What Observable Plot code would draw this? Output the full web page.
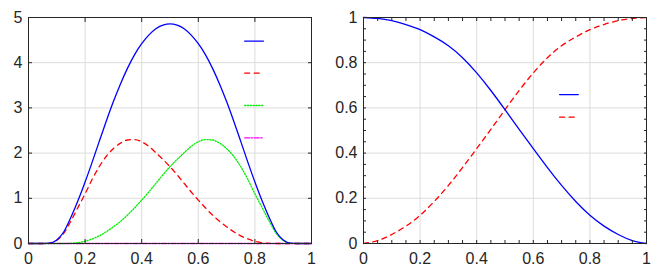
<!DOCTYPE html>
<html><head><meta charset="utf-8">
<script src="https://cdn.jsdelivr.net/npm/d3@7"></script>
<script src="https://cdn.jsdelivr.net/npm/@observablehq/plot@0.6"></script>
<style>
body{margin:0;background:#fff;}
#wrap{position:relative;width:664px;height:275px;overflow:hidden;}
#left{position:absolute;left:0;top:0;}
#right{position:absolute;left:330px;top:0;}
</style></head><body><div id="wrap"><div id="left"></div><div id="right"></div></div>
<script>
// ---------- DATA ----------
const xLeft = [0,0.025,0.05,0.075,0.1,0.125,0.15,0.175,0.2,0.225,0.25,0.275,0.3,0.325,0.35,0.375,0.4,0.425,0.45,0.475,0.5,0.525,0.55,0.575,0.6,0.625,0.65,0.675,0.7,0.725,0.75,0.775,0.8,0.825,0.85,0.875,0.9,0.925,0.95,0.975,1];
const leftBlue = [0,0,0,0.01,0.08,0.26,0.58,0.95,1.36,1.8,2.26,2.71,3.14,3.53,3.88,4.18,4.42,4.61,4.75,4.83,4.86,4.83,4.75,4.61,4.42,4.18,3.88,3.53,3.14,2.71,2.26,1.8,1.36,0.95,0.58,0.26,0.08,0.01,0,0,0];
const leftRed = [0,0,0,0.01,0.07,0.23,0.5,0.8,1.1,1.42,1.7,1.93,2.1,2.22,2.29,2.3,2.25,2.15,2.01,1.86,1.7,1.52,1.33,1.14,0.96,0.79,0.63,0.49,0.37,0.26,0.17,0.1,0.05,0.02,0.005,0,0,0,0,0,0];
const leftGreen = [0,0,0,0,0,0,0.005,0.02,0.05,0.1,0.17,0.26,0.37,0.49,0.63,0.79,0.96,1.14,1.33,1.52,1.7,1.86,2.01,2.15,2.25,2.3,2.29,2.22,2.1,1.93,1.7,1.42,1.1,0.8,0.5,0.23,0.07,0.01,0,0,0];
const leftMagenta = [0,0,0,0,0,0,0,0,0,0,0,0,0,0,0,0,0,0,0,0,0,0,0,0,0,0,0,0,0,0,0,0,0,0,0,0,0,0,0,0,0];

const xRight = [0,0.05,0.1,0.15,0.2,0.25,0.3,0.35,0.4,0.45,0.5,0.55,0.6,0.65,0.7,0.75,0.8,0.85,0.9,0.95,1];
const rightBlue = [1,0.996,0.986,0.969,0.946,0.914,0.875,0.822,0.755,0.677,0.592,0.505,0.42,0.336,0.257,0.186,0.125,0.077,0.04,0.013,0];
const rightRed = [0,0.013,0.04,0.077,0.125,0.186,0.257,0.336,0.42,0.505,0.592,0.677,0.755,0.822,0.875,0.914,0.946,0.969,0.986,0.996,1];

const xTicks = [0,0.2,0.4,0.6,0.8,1];
const yTicksLeft = [0,1,2,3,4,5];
const yTicksRight = [0,0.2,0.4,0.6,0.8,1];
const minorTicks = [0,0.05,0.1,0.15,0.2,0.25,0.3,0.35,0.4,0.45,0.5,0.55,0.6,0.65,0.7,0.75,0.8,0.85,0.9,0.95,1];

// ---------- STYLES / LAYOUT ----------
const TXT = "#262626";
const GRID = "#dcdcdc";
const FONT_SIZE = 16;
const fmt = d => String(+(+d).toFixed(2));
const font = {fontFamily: "'Liberation Sans', Arial, Helvetica, sans-serif", fontSize: FONT_SIZE + "px", color: TXT, background: "white"};

const series = {
  blue: {stroke: "#0000ff", strokeWidth: 1.3},
  red: {stroke: "#ff0000", strokeWidth: 1.3, strokeDasharray: "5,4.5"},
  green: {stroke: "#00ee00", strokeWidth: 1.3, strokeDasharray: "1.2,1.6"},
  magenta: {stroke: "#ff00ff", strokeWidth: 1.3, strokeDasharray: "5,1.5,1.5,1.5"}
};

const rows = (xs, ys) => xs.map((x, i) => ({x, y: ys[i]}));

// legend sample positions (data coordinates of each panel)
const leftLegend = [
  {key: "blue", x: [0.764, 0.830], y: 4.476},
  {key: "red", x: [0.764, 0.830], y: 3.768},
  {key: "green", x: [0.764, 0.830], y: 3.053},
  {key: "magenta", x: [0.764, 0.830], y: 2.338}
];
const rightLegend = [
  {key: "blue", x: [0.693, 0.759], y: 0.659},
  {key: "red", x: [0.693, 0.759], y: 0.559}
];
const legendMarks = leg => leg.map(l => Plot.line([{x: l.x[0], y: l.y}, {x: l.x[1], y: l.y}], {x: "x", y: "y", ...series[l.key]}));

function frameAxes(xt, yt, xMinor, yMinor, tick) {
  return [
    Plot.frame({stroke: TXT, strokeWidth: 1}),
    Plot.axisX({ticks: xt, anchor: "bottom", tickSize: 0, tickPadding: 9, tickFormat: fmt, label: null, fill: TXT, fontSize: FONT_SIZE}),
    Plot.axisY({ticks: yt, anchor: "left", tickSize: 0, tickPadding: 6, tickFormat: fmt, label: null, fill: TXT, fontSize: FONT_SIZE}),
    Plot.axisX({ticks: xMinor, anchor: "bottom", tickSize: -tick, tickFormat: () => "", label: null, stroke: TXT}),
    Plot.axisX({ticks: xMinor, anchor: "top", tickSize: -tick, tickFormat: () => "", label: null, stroke: TXT}),
    Plot.axisY({ticks: yMinor, anchor: "left", tickSize: -tick, tickFormat: () => "", label: null, stroke: TXT}),
    Plot.axisY({ticks: yMinor, anchor: "right", tickSize: -tick, tickFormat: () => "", label: null, stroke: TXT})
  ];
}

const left = Plot.plot({
  width: 330, height: 275,
  marginLeft: 28, marginRight: 19, marginTop: 17, marginBottom: 32,
  style: font,
  x: {domain: [0, 1], label: null},
  y: {domain: [0, 5], label: null},
  marks: [
    Plot.gridX(xTicks, {stroke: GRID, strokeOpacity: 1}),
    Plot.gridY(yTicksLeft, {stroke: GRID, strokeOpacity: 1}),
    Plot.line(rows(xLeft, leftMagenta), {x: "x", y: "y", ...series.magenta}),
    Plot.line(rows(xLeft, leftGreen), {x: "x", y: "y", curve: "monotone-x", ...series.green}),
    Plot.line(rows(xLeft, leftRed), {x: "x", y: "y", curve: "monotone-x", ...series.red}),
    Plot.line(rows(xLeft, leftBlue), {x: "x", y: "y", curve: "monotone-x", ...series.blue}),
    ...legendMarks(leftLegend),
    ...frameAxes(xTicks, yTicksLeft, xTicks, yTicksLeft, 4)
  ]
});
document.getElementById("left").append(left);

const right = Plot.plot({
  width: 334, height: 275,
  marginLeft: 33, marginRight: 18, marginTop: 17, marginBottom: 32,
  style: font,
  x: {domain: [0, 1], label: null},
  y: {domain: [0, 1], label: null},
  marks: [
    Plot.gridX(xTicks, {stroke: GRID, strokeOpacity: 1}),
    Plot.gridY(yTicksRight, {stroke: GRID, strokeOpacity: 1}),
    Plot.line(rows(xRight, rightRed), {x: "x", y: "y", curve: "natural", ...series.red}),
    Plot.line(rows(xRight, rightBlue), {x: "x", y: "y", curve: "natural", ...series.blue}),
    ...legendMarks(rightLegend),
    ...frameAxes(xTicks, yTicksRight, minorTicks, minorTicks, 3)
  ]
});
document.getElementById("right").append(right);
</script>
</body></html>
